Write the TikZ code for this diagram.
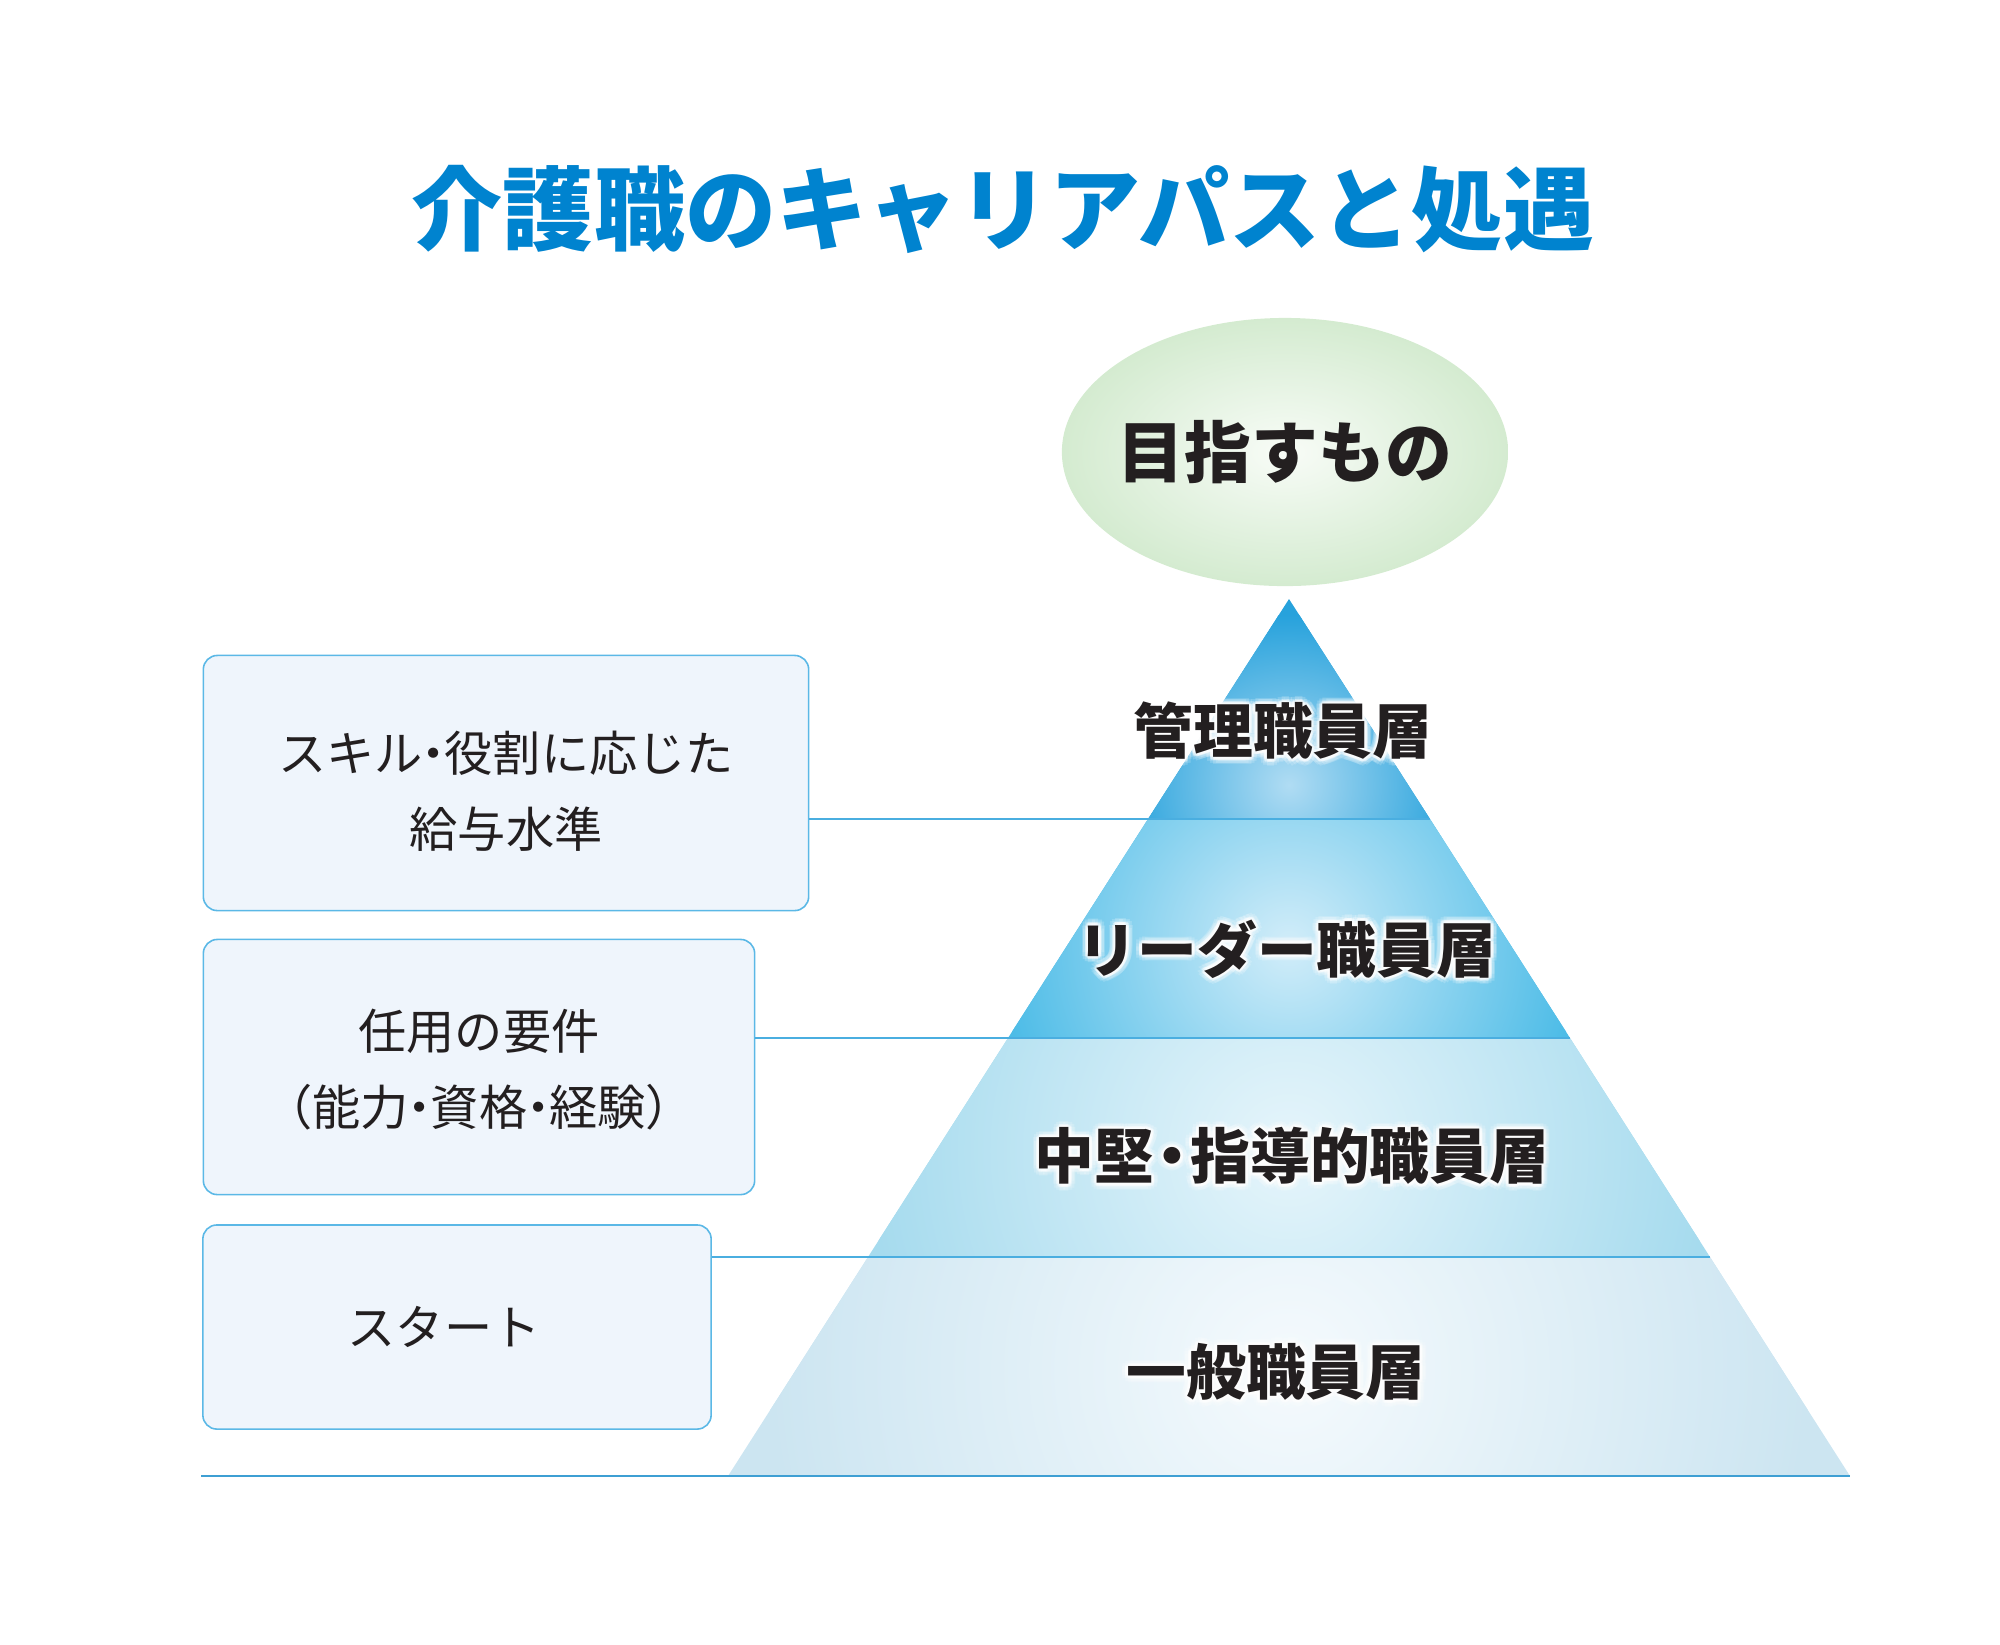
\documentclass[tikz,border=0pt]{standalone}
\usepackage{fontspec}
\setmainfont{Noto Sans CJK JP}
\usetikzlibrary{shapes.geometric,calc}
\definecolor{titleblue}{HTML}{0083CF}
\definecolor{ink}{HTML}{231F20}
\definecolor{boxfill}{HTML}{EFF5FC}
\definecolor{boxline}{HTML}{5BB8E6}
\definecolor{connline}{HTML}{4AAEE0}
\definecolor{baseline}{HTML}{3E9FD3}
\definecolor{goalin}{HTML}{F8FCF7}
\definecolor{goalout}{HTML}{D4EBD0}
\definecolor{lAi}{HTML}{B0DCF3}\definecolor{lAo}{HTML}{27A2DC}
\definecolor{lBi}{HTML}{D2EDF9}\definecolor{lBo}{HTML}{4DBCE7}
\definecolor{lCi}{HTML}{E6F5FB}\definecolor{lCo}{HTML}{A6DBEE}
\definecolor{lDi}{HTML}{F5FAFD}\definecolor{lDo}{HTML}{CCE5F1}
\pgfdeclareradialshading{goalshade}{\pgfpointorigin}{color(0bp)=(goalin); color(25bp)=(goalout); color(50bp)=(goalout)}
\pgfdeclareradialshading{layA}{\pgfpointorigin}{color(0bp)=(lAi); color(25bp)=(lAo); color(50bp)=(lAo)}
\pgfdeclareradialshading{layB}{\pgfpointorigin}{color(0bp)=(lBi); color(25bp)=(lBo); color(50bp)=(lBo)}
\pgfdeclareradialshading{layC}{\pgfpointorigin}{color(0bp)=(lCi); color(25bp)=(lCo); color(50bp)=(lCo)}
\pgfdeclareradialshading{layD}{\pgfpointorigin}{color(0bp)=(lDi); color(25bp)=(lDo); color(50bp)=(lDo)}
\newcommand\glowlabel[3]{%
  \foreach \ang in {0,30,...,330}{%
    \node[laytext,text=white,opacity=0.18] (#1-o\ang) at ($#2+(\ang:0.065cm)$) {#3};
    \node[laytext,text=white,opacity=0.4] (#1-i\ang) at ($#2+(\ang:0.03cm)$) {#3};}
  \node[laytext] (#1) at #2 {#3};}
% layer: outer colour, shading, centre, radius (cm), path
\newcommand\layer[5]{%
  \fill[#1] #5;
  \begin{scope}\clip #5; \shade[shading=#2] #3 circle (#4); \end{scope}}
\begin{document}
\begin{tikzpicture}[x=0.01cm,y=-0.01cm,
  titletext/.style={font=\fontsize{25.9pt}{30pt}\selectfont\bfseries,text=titleblue,inner sep=0},
  goalnode/.style={ellipse,minimum width=4.46cm,minimum height=2.68cm,inner sep=0,shading=goalshade},
  goaltext/.style={font=\fontsize{19pt}{22pt}\selectfont\bfseries,text=ink,inner sep=0},
  laytext/.style={font=\fontsize{17pt}{20pt}\selectfont\bfseries,text=ink,inner sep=0},
  infobox/.style={draw=boxline,fill=boxfill,line width=0.45pt,rounded corners=0.14cm,inner sep=0},
  boxtext/.style={align=center,font=\fontsize{13.7pt}{21.6pt}\selectfont,text=ink,inner sep=0},
  conn/.style={draw=connline,line width=0.6pt},
  ]
\useasboundingbox (0,0) rectangle (2000,1644);
% title
\node[titletext] (title) at (1003,209) {介護職のキャリアパスと処遇};
% goal
\node[goalnode] (goal) at (1285,452) {};
\node[goaltext] (goaltxt) at (goal.center) {目指すもの};
% pyramid corners
\coordinate (apex) at (1289,599);
\coordinate (aL) at (1148,819) ; \coordinate (aR) at (1430,819);
\coordinate (bL) at (1008,1038); \coordinate (bR) at (1570,1038);
\coordinate (cL) at (868,1257) ; \coordinate (cR) at (1710,1257);
\coordinate (dL) at (728,1476) ; \coordinate (dR) at (1850,1476);
\layer{lAo}{layA}{(1289,785)}{1.7cm}{(apex) -- (aR) -- (aL) -- cycle}
\layer{lBo}{layB}{(1289,945)}{2.9cm}{(aL) -- (aR) -- (bR) -- (bL) -- cycle}
\layer{lCo}{layC}{(1289,1150)}{4.2cm}{(bL) -- (bR) -- (cR) -- (cL) -- cycle}
\layer{lDo}{layD}{(1289,1370)}{5.2cm}{(cL) -- (cR) -- (dR) -- (dL) -- cycle}
% boxes
\node[infobox,minimum width=6.05cm,minimum height=2.55cm] (box1) at (506,783) {};
\node[boxtext] (box1t) at ($(box1.center)+(0,8)$)
  {スキル\kern-0.27em・\kern-0.27em役割に応じた\\給与水準};
\node[infobox,minimum width=5.51cm,minimum height=2.55cm] (box2) at (479,1067) {};
\node[boxtext] (box2t) at ($(box2.center)+(0,3)$)
  {任用の要件\\（能力\kern-0.27em・\kern-0.27em資格\kern-0.27em・\kern-0.27em経験）};
\node[infobox,minimum width=5.08cm,minimum height=2.04cm] (box3) at (457,1327) {};
\node[boxtext] (box3t) at ($(box3.center)+(-13,0)$) {スタート};
% connectors
\draw[conn] (box1.east |- aR) -- (aR);
\draw[conn] (box2.east |- bR) -- (bR);
\draw[conn] (box3.east |- cR) -- (cR);
\coordinate (baseL) at (201,1476);
\draw[draw=baseline,line width=0.6pt] (baseL) -- (dR);
% layer labels
\glowlabel{labA}{(1283,731)}{管理職員層}
\glowlabel{labB}{(1287,949)}{リーダー職員層}
\glowlabel{labC}{(1292,1156)}{中堅\kern-0.2em・\kern-0.2em指導的職員層}
\glowlabel{labD}{(1276,1372)}{一般職員層}
\end{tikzpicture}
\end{document}
